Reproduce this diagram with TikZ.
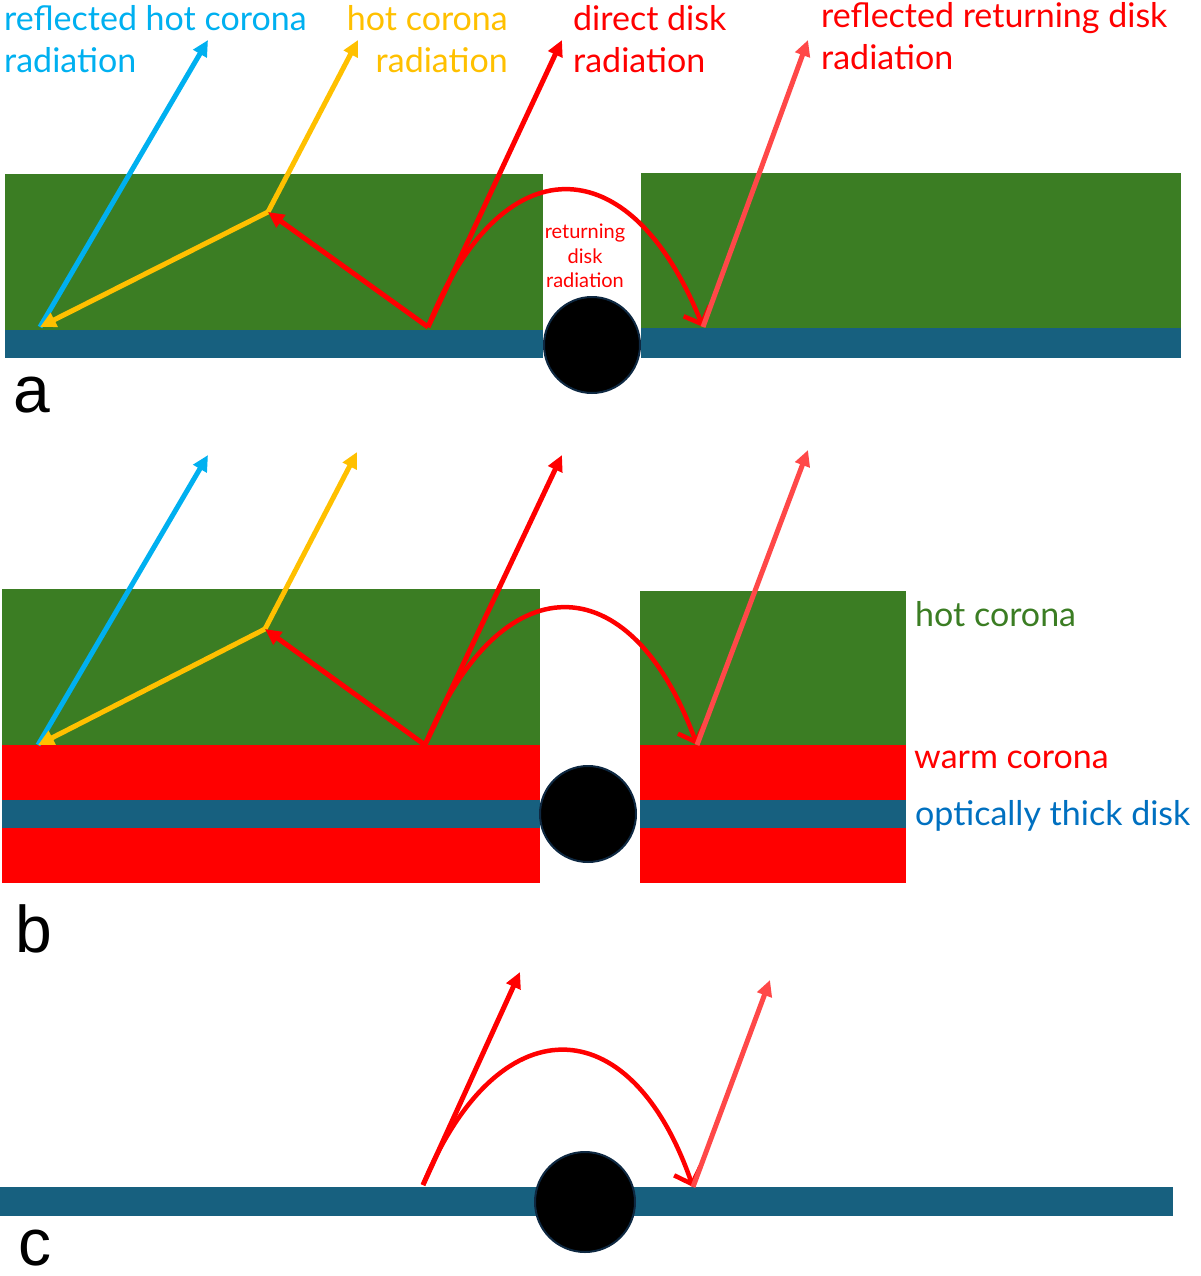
\documentclass[tikz,border=0pt]{standalone}
\usepackage{fontspec}
\setmainfont{Lato}
\newfontfamily\letterfont{Liberation Sans}
\usetikzlibrary{arrows.meta}
\definecolor{corona}{HTML}{3B7D23}
\definecolor{disk}{HTML}{17607F}
\definecolor{warm}{HTML}{FF0000}
\definecolor{cyanray}{HTML}{00B0F0}
\definecolor{goldray}{HTML}{FFC000}
\definecolor{redray}{HTML}{FF0000}
\definecolor{paleray}{HTML}{FF4848}
\definecolor{diskblue}{HTML}{0070C0}
\definecolor{holeedge}{HTML}{0E2841}
\begin{document}
\begin{tikzpicture}[x=1pt,y=-1pt,
    ray/.style={line width=5pt,-{Triangle[length=16pt,width=15pt]}},
    bounce/.style={line width=4.5pt,-{Straight Barb[length=14pt,width=28pt]}},
    hole/.style={circle,fill=black,draw=holeedge,line width=2pt,inner sep=0pt},
    bigtext/.style={font=\fontsize{34}{42}\selectfont,inner sep=0pt},
    smalltext/.style={font=\fontsize{20}{24.5}\selectfont,inner sep=0pt,align=center,text=redray},
    panellabel/.style={font=\letterfont\fontsize{66}{66}\selectfont,inner sep=0pt,anchor=base west}]
  \useasboundingbox (0,0) rectangle (1200,1276);

  % panel a
  \fill[corona] (5,174) rectangle (543,330);
  \fill[disk] (5,330) rectangle (543,358);
  \fill[corona] (641,173) rectangle (1181,328);
  \fill[disk] (641,328) rectangle (1181,358);
  \node[hole,minimum size=96pt] (holeA) at (592,345) {};
  \coordinate (aFoot) at (40,327);
  \coordinate (aBlueTip) at (208,40);
  \coordinate (aBend) at (268,212);
  \coordinate (aGoldTip) at (358,40);
  \coordinate (aEmit) at (428,327);
  \coordinate (aDirectTip) at (562,40);
  \coordinate (aLand) at (703,327);
  \coordinate (aPaleTip) at (808,40);
  \draw[ray,cyanray] (aFoot) -- (aBlueTip);
  \draw[ray,goldray] (aBend) -- (aGoldTip);
  \draw[ray,goldray] (aBend) -- (aFoot);
  \draw[ray,redray] (aEmit) -- (aBend);
  \draw[ray,redray] (aEmit) -- (aDirectTip);
  \draw[bounce,redray] (aEmit) .. controls +(72,-183) and +(-73,-183) .. (aLand);
  \draw[ray,paleray] (aLand) -- (aPaleTip);
  \node[bigtext,text=cyanray,align=left,anchor=north west] (lblReflHot) at (4,5) {reflected hot corona\\radiation};
  \node[bigtext,text=goldray,align=right,anchor=north east] (lblHot) at (508,5) {hot corona\\radiation};
  \node[bigtext,text=redray,align=left,anchor=north west] (lblDirect) at (573,5) {direct disk\\radiation};
  \node[bigtext,text=redray,align=left,anchor=north west] (lblReflRet) at (821,2) {reflected returning disk\\radiation};
  \node[smalltext] (lblReturn) at (585,256) {returning\\disk\\radiation};
  \node[panellabel] (lblA) at (13,412) {a};

  % panel b
  \fill[corona] (2,589) rectangle (540,745);
  \fill[warm] (2,745) rectangle (540,800);
  \fill[disk] (2,800) rectangle (540,828);
  \fill[warm] (2,828) rectangle (540,883);
  \fill[corona] (640,591) rectangle (906,745);
  \fill[warm] (640,745) rectangle (906,800);
  \fill[disk] (640,800) rectangle (906,828);
  \fill[warm] (640,828) rectangle (906,883);
  \node[hole,minimum size=96pt] (holeB) at (588,814) {};
  \coordinate (bFoot) at (38,745);
  \coordinate (bBlueTip) at (208,455);
  \coordinate (bBend) at (265,629);
  \coordinate (bGoldTip) at (357,452);
  \coordinate (bEmit) at (425,745);
  \coordinate (bDirectTip) at (562,455);
  \coordinate (bLand) at (697,745);
  \coordinate (bPaleTip) at (808,450);
  \draw[ray,cyanray] (bFoot) -- (bBlueTip);
  \draw[ray,goldray] (bBend) -- (bGoldTip);
  \draw[ray,goldray] (bBend) -- (bFoot);
  \draw[ray,redray] (bEmit) -- (bBend);
  \draw[ray,redray] (bEmit) -- (bDirectTip);
  \draw[bounce,redray] (bEmit) .. controls +(75,-183) and +(-67,-183) .. (bLand);
  \draw[ray,paleray] (bLand) -- (bPaleTip);
  \node[bigtext,text=corona,anchor=west] (lblCorona) at (915,614) {hot corona};
  \node[bigtext,text=warm,anchor=west] (lblWarm) at (914,760) {warm corona};
  \node[bigtext,text=diskblue,anchor=west] (lblDisk) at (915,816) {optically thick disk};
  \node[panellabel] (lblB) at (15,952) {b};

  % panel c
  \fill[disk] (0,1187) rectangle (1173,1216);
  \node[hole,minimum size=100pt] (holeC) at (585,1202) {};
  \coordinate (cEmit) at (423,1185);
  \coordinate (cDirectTip) at (520,972);
  \coordinate (cLand) at (693,1187);
  \coordinate (cPaleTip) at (770,980);
  \draw[ray,redray] (cEmit) -- (cDirectTip);
  \draw[bounce,redray] (cEmit) .. controls +(74,-180) and +(-63,-182) .. (cLand);
  \draw[ray,paleray] (cLand) -- (cPaleTip);
  \node[panellabel] (lblC) at (18,1265) {c};
\end{tikzpicture}
\end{document}
